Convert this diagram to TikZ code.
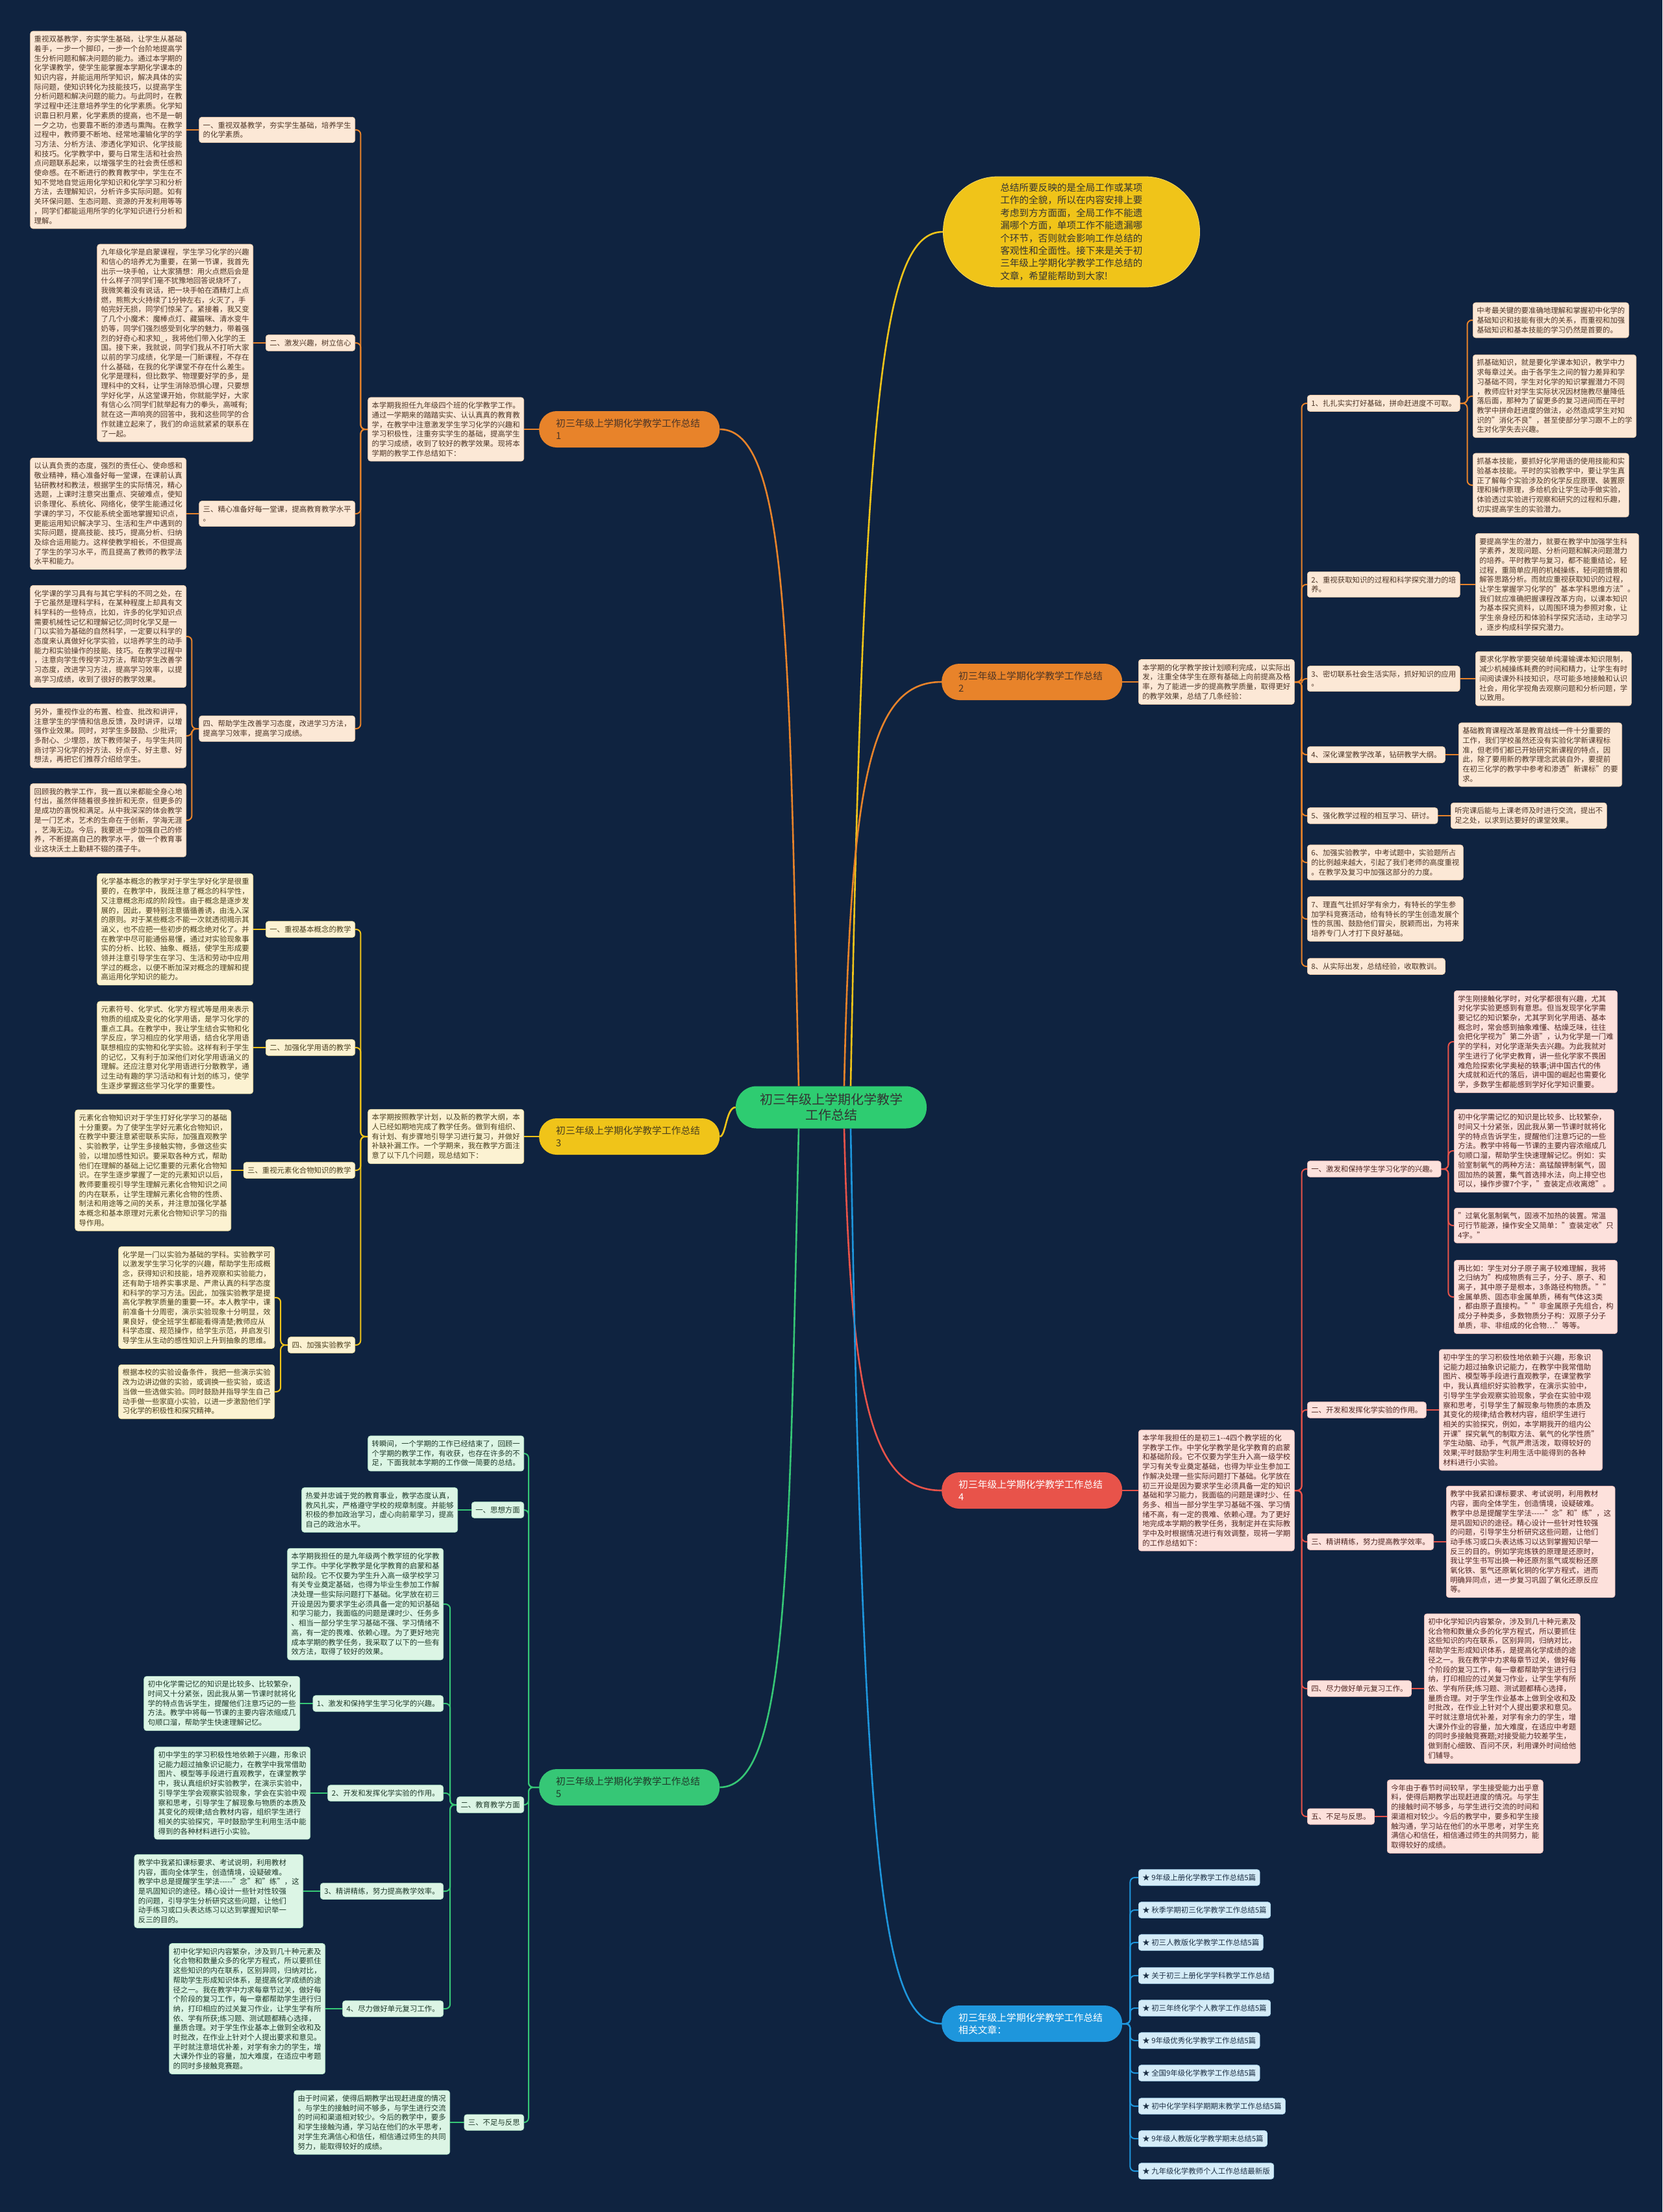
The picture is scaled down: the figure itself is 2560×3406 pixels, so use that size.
\documentclass[tikz,border=0pt]{standalone}
\usepackage{fontspec}
\setmainfont{Noto Sans CJK SC}
\definecolor{bgc}{HTML}{0F2340}
\definecolor{ocol}{HTML}{E8832A}
\definecolor{ofill}{HTML}{FCE8D6}
\definecolor{otext}{HTML}{4D3526}
\definecolor{ycol}{HTML}{F0C419}
\definecolor{yfill}{HTML}{FCF2D2}
\definecolor{ytext}{HTML}{4A3F1E}
\definecolor{rcol}{HTML}{E8534A}
\definecolor{rfill}{HTML}{FDE1DC}
\definecolor{rtext}{HTML}{4F2622}
\definecolor{gcol}{HTML}{36C776}
\definecolor{gfill}{HTML}{DCF5E5}
\definecolor{gtext}{HTML}{1F3A2A}
\definecolor{bcol}{HTML}{1E96DC}
\definecolor{bfill}{HTML}{D5ECF8}
\definecolor{btext}{HTML}{1C2F44}
\definecolor{ccol}{HTML}{2ECC71}
\newcommand\myfs{\fontsize{11.4pt}{14.7pt}\selectfont}
\newcommand\mypf{\fontsize{14.8pt}{19pt}\selectfont}
\newcommand\mycf{\fontsize{20pt}{24pt}\selectfont}
\newcommand\myif{\fontsize{14.6pt}{19.4pt}\selectfont}
\pgfdeclarelayer{back}
\pgfdeclarelayer{conn}
\pgfsetlayers{back,conn,main}
\tikzset{
  box/.style={font=\myfs, align=left, inner xsep=6pt, inner ysep=7pt, rounded corners=4pt, line width=0.6pt},
  obox/.style={box, fill=ofill, draw=ocol!25!ofill, text=otext},
  ybox/.style={box, fill=yfill, draw=ycol!30!yfill, text=ytext},
  rbox/.style={box, fill=rfill, draw=rcol!25!rfill, text=rtext},
  gbox/.style={box, fill=gfill, draw=gcol!25!gfill, text=gtext},
  bbox/.style={box, fill=bfill, draw=bcol!25!bfill, text=btext},
  pill/.style={font=\mypf, align=left, text width=226pt, inner xsep=26pt, inner ysep=9pt, rounded corners=27pt, minimum height=56pt},
  ocon/.style={draw=ocol, line width=2pt, rounded corners=7pt},
  ycon/.style={draw=ycol, line width=2pt, rounded corners=7pt},
  rcon/.style={draw=rcol, line width=2pt, rounded corners=7pt},
  gcon/.style={draw=gcol, line width=2pt, rounded corners=7pt},
  bcon/.style={draw=bcol, line width=2pt, rounded corners=7pt},
  mcon/.style={line width=2.6pt},
}
\begin{document}
\begin{tikzpicture}[x=1pt,y=-1pt]
\useasboundingbox (0,0) rectangle (2560,3406);
\begin{pgfonlayer}{back}
\fill[bgc] (0,0) rectangle (2560,3406);
\end{pgfonlayer}

% ---------- center ----------
\node[fill=ccol, text=black!80, font=\mycf, align=center, inner xsep=37pt, inner ysep=10pt, rounded corners=32pt, minimum height=65pt] (C) at (1280,1705) {初三年级上学期化学教学\\工作总结};

% ---------- intro ----------
\node[fill=ycol, draw=ycol!70!white, line width=0.8pt, text=black!80, font=\myif, align=left, inner xsep=88pt, inner ysep=10pt, rounded corners=84pt, minimum height=170pt] (I) at (1650,357) {总结所要反映的是全局工作或某项\\工作的全貌，所以在内容安排上要\\考虑到方方面面，全局工作不能遗\\漏哪个方面，单项工作不能遗漏哪\\个环节，否则就会影响工作总结的\\客观性和全面性。接下来是关于初\\三年级上学期化学教学工作总结的\\文章，希望能帮助到大家!};

% ---------- branch 1 ----------
\node[pill, fill=ocol, text=otext, anchor=west] (B1) at (830,661) {初三年级上学期化学教学工作总结\\1};
\node[obox, anchor=east] (D1) at (807,661) {本学期我担任九年级四个班的化学教学工作。\\通过一学期来的踏踏实实、认认真真的教育教\\学，在教学中注意激发学生学习化学的兴趣和\\学习积极性，注重夯实学生的基础，提高学生\\的学习成绩，收到了较好的教学效果。现将本\\学期的教学工作总结如下：};
\node[obox, anchor=east] (L1a) at (547,200) {一、重视双基教学，夯实学生基础，培养学生\\的化学素质。};
\node[obox, anchor=east] (P1a) at (287,200) {重视双基教学，夯实学生基础，让学生从基础\\着手，一步一个脚印，一步一个台阶地提高学\\生分析问题和解决问题的能力。通过本学期的\\化学课教学，使学生能掌握本学期化学课本的\\知识内容，并能运用所学知识，解决具体的实\\际问题，使知识转化为技能技巧，以提高学生\\分析问题和解决问题的能力。与此同时，在教\\学过程中还注意培养学生的化学素质。化学知\\识靠日积月累，化学素质的提高，也不是一朝\\一夕之功，也要靠不断的渗透与熏陶。在教学\\过程中，教师要不断地、经常地灌输化学的学\\习方法、分析方法、渗透化学知识、化学技能\\和技巧。化学教学中，要与日常生活和社会热\\点问题联系起来，以增强学生的社会责任感和\\使命感。在不断进行的教育教学中，学生在不\\知不觉地自觉运用化学知识和化学学习和分析\\方法，去理解知识，分析许多实际问题。如有\\关环保问题、生态问题、资源的开发利用等等\\，同学们都能运用所学的化学知识进行分析和\\理解。};
\node[obox, anchor=east] (L1b) at (547,528) {二、激发兴趣，树立信心};
\node[obox, anchor=east] (P1b) at (390,528) {九年级化学是启蒙课程，学生学习化学的兴趣\\和信心的培养尤为重要，在第一节课，我首先\\出示一块手帕，让大家猜想：用火点燃后会是\\什么样子?同学们毫不犹豫地回答说烧坏了，\\我微笑着没有说话，把一块手帕在酒精灯上点\\燃，熊熊大火持续了1分钟左右，火灭了，手\\帕完好无损，同学们惊呆了。紧接着，我又变\\了几个小魔术：魔棒点灯、藏猫咪、清水变牛\\奶等，同学们强烈感受到化学的魅力，带着强\\烈的好奇心和求知\_，我将他们带入化学的王\\国。接下来，我就说，同学们我从不打听大家\\以前的学习成绩，化学是一门新课程，不存在\\什么基础，在我的化学课堂不存在什么差生。\\化学是理科，但比数学、物理要好学的多，是\\理科中的文科，让学生消除恐惧心理，只要想\\学好化学，从这堂课开始，你就能学好，大家\\有信心么?同学们就举起有力的拳头，高喊有;\\就在这一声响亮的回答中，我和这些同学的合\\作就建立起来了，我们的命运就紧紧的联系在\\了一起。};
\node[obox, anchor=east] (L1c) at (547,791) {三、精心准备好每一堂课，提高教育教学水平\\。};
\node[obox, anchor=east] (P1c) at (287,791) {以认真负责的态度，强烈的责任心、使命感和\\敬业精神，精心准备好每一堂课，在课前认真\\钻研教材和教法，根据学生的实际情况，精心\\选题，上课时注意突出重点、突破难点，使知\\识条理化、系统化、网络化，使学生能通过化\\学课的学习，不仅能系统全面地掌握知识点，\\更能运用知识解决学习、生活和生产中遇到的\\实际问题，提高技能、技巧，提高分析、归纳\\及综合运用能力。这样使教学相长，不但提高\\了学生的学习水平，而且提高了教师的教学法\\水平和能力。};
\node[obox, anchor=east] (L1d) at (547,1122) {四、帮助学生改善学习态度，改进学习方法，\\提高学习效率，提高学习成绩。};
\node[obox, anchor=east] (P1d) at (287,980) {化学课的学习具有与其它学科的不同之处，在\\于它虽然是理科学科，在某种程度上却具有文\\科学科的一些特点，比如，许多的化学知识点\\需要机械性记忆和理解记忆;同时化学又是一\\门以实验为基础的自然科学，一定要以科学的\\态度来认真做好化学实验，以培养学生的动手\\能力和实验操作的技能、技巧。在教学过程中\\，注意向学生传授学习方法，帮助学生改善学\\习态度，改进学习方法，提高学习效率，以提\\高学习成绩，收到了很好的教学效果。};
\node[obox, anchor=east] (P1e) at (287,1133) {另外，重视作业的布置、检查、批改和讲评，\\注意学生的学情和信息反馈，及时讲评，以增\\强作业效果。同时，对学生多鼓励、少批评;\\多耐心、少埋怨，放下教师架子，与学生共同\\商讨学习化学的好方法、好点子、好主意、好\\想法，再把它们推荐介绍给学生。};
\node[obox, anchor=east] (P1f) at (287,1263) {回顾我的教学工作，我一直以来都能全身心地\\付出，虽然伴随着很多挫折和无奈，但更多的\\是成功的喜悦和满足。从中我深深的体会教学\\是一门艺术，艺术的生命在于创新，学海无涯\\，艺海无边。今后，我要进一步加强自己的修\\养，不断提高自己的教学水平，做一个教育事\\业这块沃土上勤耕不辍的孺子牛。};

% ---------- branch 3 ----------
\node[pill, fill=ycol, text=ytext, anchor=west] (B3) at (830,1750) {初三年级上学期化学教学工作总结\\3};
\node[ybox, anchor=east] (D3) at (807,1750) {本学期按照教学计划，以及新的教学大纲，本\\人已经如期地完成了教学任务。做到有组织、\\有计划、有步骤地引导学习进行复习，并做好\\补缺补漏工作。一个学期来，我在教学方面注\\意了以下几个问题，现总结如下：};
\node[ybox, anchor=east] (L3a) at (547,1431) {一、重视基本概念的教学};
\node[ybox, anchor=east] (P3a) at (390,1431) {化学基本概念的教学对于学生学好化学是很重\\要的，在教学中，我既注意了概念的科学性，\\又注意概念形成的阶段性。由于概念是逐步发\\展的，因此，要特别注意循循善诱，由浅入深\\的原则。对于某些概念不能一次就透彻揭示其\\涵义，也不应把一些初步的概念绝对化了。并\\在教学中尽可能通俗易懂，通过对实验现象事\\实的分析、比较、抽象、概括，使学生形成要\\领并注意引导学生在学习、生活和劳动中应用\\学过的概念，以便不断加深对概念的理解和提\\高运用化学知识的能力。};
\node[ybox, anchor=east] (L3b) at (547,1613) {二、加强化学用语的教学};
\node[ybox, anchor=east] (P3b) at (390,1613) {元素符号、化学式、化学方程式等是用来表示\\物质的组成及变化的化学用语，是学习化学的\\重点工具。在教学中，我让学生结合实物和化\\学反应，学习相应的化学用语，结合化学用语\\联想相应的实物和化学实验。这样有利于学生\\的记忆，又有利于加深他们对化学用语涵义的\\理解。还应注意对化学用语进行分散教学，通\\过生动有趣的学习活动和有计划的练习，使学\\生逐步掌握这些学习化学的重要性。};
\node[ybox, anchor=east] (L3c) at (547,1802) {三、重视元素化合物知识的教学};
\node[ybox, anchor=east] (P3c) at (356,1802) {元素化合物知识对于学生打好化学学习的基础\\十分重要。为了使学生学好元素化合物知识，\\在教学中要注意紧密联系实际，加强直观教学\\、实验教学，让学生多接触实物，多做这些实\\验，以增加感性知识。要采取各种方式，帮助\\他们在理解的基础上记忆重要的元素化合物知\\识。在学生逐步掌握了一定的元素知识以后，\\教师要重视引导学生理解元素化合物知识之间\\的内在联系，让学生理解元素化合物的性质、\\制法和用途等之间的关系，并注意加强化学基\\本概念和基本原理对元素化合物知识学习的指\\导作用。};
\node[ybox, anchor=east] (L3d) at (547,2071) {四、加强实验教学};
\node[ybox, anchor=east] (P3d) at (423,1998) {化学是一门以实验为基础的学科。实验教学可\\以激发学生学习化学的兴趣，帮助学生形成概\\念，获得知识和技能，培养观察和实验能力，\\还有助于培养实事求是、严肃认真的科学态度\\和科学的学习方法。因此，加强实验教学是提\\高化学教学质量的重要一环。本人教学中，课\\前准备十分周密，演示实验现象十分明显，效\\果良好，使全班学生都能看得清楚;教师应从\\科学态度、规范操作，给学生示范，并启发引\\导学生从生动的感性知识上升到抽象的思维。};
\node[ybox, anchor=east] (P3e) at (423,2143) {根据本校的实验设备条件，我把一些演示实验\\改为边讲边做的实验，或调换一些实验，或适\\当做一些选做实验。同时鼓励并指导学生自己\\动手做一些家庭小实验，以进一步激励他们学\\习化学的积极性和探究精神。};

% ---------- branch 5 ----------
\node[pill, fill=gcol, text=gtext, anchor=west] (B5) at (830,2752) {初三年级上学期化学教学工作总结\\5};
\node[gbox, anchor=east] (D5) at (807,2238) {转瞬间，一个学期的工作已经结束了，回顾一\\个学期的教学工作，有收获，也存在许多的不\\足，下面我就本学期的工作做一简要的总结。};
\node[gbox, anchor=east] (L5a) at (807,2325) {一、思想方面};
\node[gbox, anchor=east] (P5a) at (705,2325) {热爱并忠诚于党的教育事业，教学态度认真，\\教风扎实，严格遵守学校的规章制度。并能够\\积极的参加政治学习，虚心向前辈学习，提高\\自己的政治水平。};
\node[gbox, anchor=east] (L5b) at (807,2779) {二、教育教学方面};
\node[gbox, anchor=east] (P5b) at (683,2470) {本学期我担任的是九年级两个教学班的化学教\\学工作。中学化学教学是化学教育的启蒙和基\\础阶段。它不仅要为学生升入高一级学校学习\\有关专业奠定基础，也得为毕业生参加工作解\\决处理一些实际问题打下基础。化学放在初三\\开设是因为要求学生必须具备一定的知识基础\\和学习能力，我面临的问题是课时少、任务多\\、相当一部分学生学习基础不强、学习情绪不\\高，有一定的畏难、依赖心理。为了更好地完\\成本学期的教学任务，我采取了以下的一些有\\效方法，取得了较好的效果。};
\node[gbox, anchor=east] (L5b1) at (683,2623) {1、激发和保持学生学习化学的兴趣。};
\node[gbox, anchor=east] (P5c) at (462,2623) {初中化学需记忆的知识是比较多、比较繁杂，\\时间又十分紧张，因此我从第一节课时就将化\\学的特点告诉学生，提醒他们注意巧记的一些\\方法。教学中将每一节课的主要内容浓缩成几\\句顺口溜，帮助学生快速理解记忆。};
\node[gbox, anchor=east] (L5b2) at (683,2761) {2、开发和发挥化学实验的作用。};
\node[gbox, anchor=east] (P5d) at (478,2761) {初中学生的学习积极性地依赖于兴趣，形象识\\记能力超过抽象识记能力，在教学中我常借助\\图片、模型等手段进行直观教学，在课堂教学\\中，我认真组织好实验教学，在演示实验中，\\引导学生学会观察实验现象，学会在实验中观\\察和思考，引导学生了解现象与物质的本质及\\其变化的规律;结合教材内容，组织学生进行\\相关的实验探究，平时鼓励学生利用生活中能\\得到的各种材料进行小实验。};
\node[gbox, anchor=east] (L5b3) at (683,2912) {3、精讲精练，努力提高教学效率。};
\node[gbox, anchor=east] (P5e) at (467,2912) {教学中我紧扣课标要求、考试说明，利用教材\\内容，面向全体学生，创造情境，设疑破难。\\教学中总是提醒学生学法-{}-{}-{}-{}-"念"和"练"，这\\是巩固知识的途径。精心设计一些针对性较强\\的问题，引导学生分析研究这些问题，让他们\\动手练习或口头表达练习以达到掌握知识举一\\反三的目的。};
\node[gbox, anchor=east] (L5b4) at (683,3093) {4、尽力做好单元复习工作。};
\node[gbox, anchor=east] (P5f) at (501,3093) {初中化学知识内容繁杂，涉及到几十种元素及\\化合物和数量众多的化学方程式，所以要抓住\\这些知识的内在联系，区别异同，归纳对比，\\帮助学生形成知识体系，是提高化学成绩的途\\径之一。我在教学中力求每章节过关，做好每\\个阶段的复习工作，每一章都帮助学生进行归\\纳，打印相应的过关复习作业，让学生学有所\\依、学有所获;练习题、测试题都精心选择，\\量质合理。对于学生作业基本上做到全收和及\\时批改，在作业上针对个人提出要求和意见。\\平时就注意培优补差，对学有余力的学生，增\\大课外作业的容量，加大难度，在适应中考题\\的同时多接触竞赛题。};
\node[gbox, anchor=east] (L5c) at (807,3268) {三、不足与反思};
\node[gbox, anchor=east] (P5g) at (693,3268) {由于时间紧，使得后期教学出现赶进度的情况\\。与学生的接触时间不够多，与学生进行交流\\的时间和渠道相对较少。今后的教学中，要多\\和学生接触沟通，学习站在他们的水平思考，\\对学生充满信心和信任，相信通过师生的共同\\努力，能取得较好的成绩。};

% ---------- branch 2 ----------
\node[pill, fill=ocol, text=otext, anchor=west] (B2) at (1450,1050) {初三年级上学期化学教学工作总结\\2};
\node[obox, anchor=west] (D2) at (1753,1050) {本学期的化学教学按计划顺利完成，以实际出\\发，注重全体学生在原有基础上向前提高及格\\率，为了能进一步的提高教学质量，取得更好\\的教学效果，总结了几条经验：};
\node[obox, anchor=west] (L21) at (2013,621) {1、扎扎实实打好基础，拼命赶进度不可取。};
\node[obox, anchor=west] (P21a) at (2268,493) {中考最关键的要准确地理解和掌握初中化学的\\基础知识和技能有很大的关系，而重视和加强\\基础知识和基本技能的学习仍然是首要的。};
\node[obox, anchor=west] (P21b) at (2268,610) {抓基础知识，就是要化学课本知识，教学中力\\求每章过关。由于各学生之间的智力差异和学\\习基础不同，学生对化学的知识掌握潜力不同\\，教师应针对学生实际状况因材施教尽量降低\\落后面，那种为了留更多的复习进间而在平时\\教学中拼命赶进度的做法，必然造成学生对知\\识的"消化不良"，甚至使部分学习跟不上的学\\生对化学失去兴趣。};
\node[obox, anchor=west] (P21c) at (2268,747) {抓基本技能，要抓好化学用语的使用技能和实\\验基本技能。平时的实验教学中，要让学生真\\正了解每个实验涉及的化学反应原理、装置原\\理和操作原理，多给机会让学生动手做实验，\\体验透过实验进行观察和研究的过程和乐趣，\\切实提高学生的实验潜力。};
\node[obox, anchor=west] (L22) at (2013,900) {2、重视获取知识的过程和科学探究潜力的培\\养。};
\node[obox, anchor=west] (P22) at (2272,900) {要提高学生的潜力，就要在教学中加强学生科\\学素养，发现问题、分析问题和解决问题潜力\\的培养。平时教学与复习，都不能重结论，轻\\过程，重简单应用的机械操练，轻问题情景和\\解答思路分析。而就应重视获取知识的过程，\\让学生掌握学习化学的"基本学科思维方法"。\\我们就应准确把握课程改革方向，以课本知识\\为基本探究资料，以周围环境为参照对象，让\\学生亲身经历和体验科学探究活动，主动学习\\，逐步构成科学探究潜力。};
\node[obox, anchor=west] (L23) at (2013,1045) {3、密切联系社会生活实际，抓好知识的应用\\。};
\node[obox, anchor=west] (P23) at (2272,1045) {要求化学教学要突破单纯灌输课本知识限制，\\减少机械操练耗费的时间和精力，让学生有时\\间阅读课外科技知识，尽可能多地接触和认识\\社会，用化学视角去观察问题和分析问题，学\\以致用。};
\node[obox, anchor=west] (L24) at (2013,1162) {4、深化课堂教学改革，钻研教学大纲。};
\node[obox, anchor=west] (P24) at (2246,1162) {基础教育课程改革是教育战线一件十分重要的\\工作，我们学校虽然还没有实验化学新课程标\\准，但老师们都已开始研究新课程的特点，因\\此，除了要用新的教学理念武装自外，要提前\\在初三化学的教学中参考和渗透"新课标"的要\\求。};
\node[obox, anchor=west] (L25) at (2013,1256) {5、强化教学过程的相互学习、研讨。};
\node[obox, anchor=west] (P25) at (2234,1256) {听完课后能与上课老师及时进行交流，提出不\\足之处，以求到达要好的课堂效果。};
\node[obox, anchor=west] (L26) at (2013,1328) {6、加强实验教学，中考试题中，实验题所占\\的比例越来越大，引起了我们老师的高度重视\\。在教学及复习中加强这部分的力度。};
\node[obox, anchor=west] (L27) at (2013,1415) {7、理直气壮抓好学有余力，有特长的学生参\\加学科竞赛活动，给有特长的学生创造发展个\\性的氛围、鼓励他们冒尖，脱颖而出，为将来\\培养专门人才打下良好基础。};
\node[obox, anchor=west] (L28) at (2013,1488) {8、从实际出发，总结经验，收取教训。};

% ---------- branch 4 ----------
\node[pill, fill=rcol, text=white, anchor=west] (B4) at (1450,2295) {初三年级上学期化学教学工作总结\\4};
\node[rbox, anchor=west] (D4) at (1753,2295) {本学年我担任的是初三1-{}-4四个教学班的化\\学教学工作。中学化学教学是化学教育的启蒙\\和基础阶段。它不仅要为学生升入高一级学校\\学习有关专业奠定基础，也得为毕业生参加工\\作解决处理一些实际问题打下基础。化学放在\\初三开设是因为要求学生必须具备一定的知识\\基础和学习能力，我面临的问题是课时少、任\\务多、相当一部分学生学习基础不强、学习情\\绪不高，有一定的畏难、依赖心理。为了更好\\地完成本学期的教学任务，我制定并在实际教\\学中及时根据情况进行有效调整，现将一学期\\的工作总结如下：};
\node[rbox, anchor=west] (L41) at (2013,1800) {一、激发和保持学生学习化学的兴趣。};
\node[rbox, anchor=west] (P41a) at (2239,1604) {学生刚接触化学时，对化学都很有兴趣，尤其\\对化学实验更感到有意思。但当发现学化学需\\要记忆的知识繁杂，尤其学到化学用语、基本\\概念时，常会感到抽象难懂、枯燥乏味，往往\\会把化学视为"第二外语"，认为化学是一门难\\学的学科，对化学逐渐失去兴趣。为此我就对\\学生进行了化学史教育，讲一些化学家不畏困\\难危险探索化学奥秘的轶事;讲中国古代的伟\\大成就和近代的落后，讲中国的崛起也需要化\\学，多数学生都能感到学好化学知识重要。};
\node[rbox, anchor=west] (P41b) at (2239,1772) {初中化学需记忆的知识是比较多、比较繁杂，\\时间又十分紧张，因此我从第一节课时就将化\\学的特点告诉学生，提醒他们注意巧记的一些\\方法。教学中将每一节课的主要内容浓缩成几\\句顺口溜，帮助学生快速理解记忆。例如：实\\验室制氧气的两种方法：高锰酸钾制氧气，固\\固加热的装置，集气首选排水法，向上排空也\\可以，操作步骤7个字，"查装定点收离熄"。};
\node[rbox, anchor=west] (P41c) at (2239,1887) {"过氧化氢制氧气，固液不加热的装置。常温\\可行节能源，操作安全又简单："查装定收"只\\4字。"};
\node[rbox, anchor=west] (P41d) at (2239,1997) {再比如：学生对分子原子离子较难理解，我将\\之归纳为"构成物质有三子，分子、原子、和\\离子，其中原子是根本，3条路径构物质。""\\金属单质、固态非金属单质，稀有气体这3类\\，都由原子直接构。""非金属原子先组合，构\\成分子种类多，多数物质分子构：双原子分子\\单质，非、非组成的化合物…"等等。};
\node[rbox, anchor=west] (L42) at (2013,2171) {二、开发和发挥化学实验的作用。};
\node[rbox, anchor=west] (P42) at (2216,2171) {初中学生的学习积极性地依赖于兴趣，形象识\\记能力超过抽象识记能力，在教学中我常借助\\图片、模型等手段进行直观教学，在课堂教学\\中，我认真组织好实验教学，在演示实验中，\\引导学生学会观察实验现象，学会在实验中观\\察和思考，引导学生了解现象与物质的本质及\\其变化的规律;结合教材内容，组织学生进行\\相关的实验探究，例如，本学期我开的组内公\\开课"探究氧气的制取方法、氧气的化学性质"\\学生动脑、动手，气氛严肃活泼，取得较好的\\效果;平时鼓励学生利用生活中能得到的各种\\材料进行小实验。};
\node[rbox, anchor=west] (L43) at (2013,2374) {三、精讲精练，努力提高教学效率。};
\node[rbox, anchor=west] (P43) at (2227,2374) {教学中我紧扣课标要求、考试说明，利用教材\\内容，面向全体学生，创造情境，设疑破难。\\教学中总是提醒学生学法-{}-{}-{}-{}-"念"和"练"，这\\是巩固知识的途径。精心设计一些针对性较强\\的问题，引导学生分析研究这些问题，让他们\\动手练习或口头表达练习以达到掌握知识举一\\反三的目的。例如学完炼铁的原理是还原时，\\我让学生书写出换一种还原剂氢气或炭粉还原\\氧化铁、氢气还原氧化铜的化学方程式，进而\\明确异同点，进一步复习巩固了氧化还原反应\\等。};
\node[rbox, anchor=west] (L44) at (2013,2600) {四、尽力做好单元复习工作。};
\node[rbox, anchor=west] (P44) at (2193,2600) {初中化学知识内容繁杂，涉及到几十种元素及\\化合物和数量众多的化学方程式，所以要抓住\\这些知识的内在联系，区别异同，归纳对比，\\帮助学生形成知识体系，是提高化学成绩的途\\径之一。我在教学中力求每章节过关，做好每\\个阶段的复习工作，每一章都帮助学生进行归\\纳，打印相应的过关复习作业，让学生学有所\\依、学有所获;练习题、测试题都精心选择，\\量质合理。对于学生作业基本上做到全收和及\\时批改，在作业上针对个人提出要求和意见。\\平时就注意培优补差，对学有余力的学生，增\\大课外作业的容量，加大难度，在适应中考题\\的同时多接触竞赛题;对接受能力较差学生，\\做到耐心细致、百问不厌，利用课外时间给他\\们辅导。};
\node[rbox, anchor=west] (L45) at (2013,2797) {五、不足与反思。};
\node[rbox, anchor=west] (P45) at (2136,2797) {今年由于春节时间较早，学生接受能力出乎意\\料，使得后期教学出现赶进度的情况。与学生\\的接触时间不够多，与学生进行交流的时间和\\渠道相对较少。今后的教学中，要多和学生接\\触沟通，学习站在他们的水平思考，对学生充\\满信心和信任，相信通过师生的共同努力，能\\取得较好的成绩。};

% ---------- branch 6 ----------
\node[pill, fill=bcol, text=white, anchor=west] (B6) at (1450,3116) {初三年级上学期化学教学工作总结\\相关文章：};
\node[bbox, anchor=west] (I0) at (1753,2891) {★ 9年级上册化学教学工作总结5篇};
\node[bbox, anchor=west] (I1) at (1753,2941) {★ 秋季学期初三化学教学工作总结5篇};
\node[bbox, anchor=west] (I2) at (1753,2991) {★ 初三人教版化学教学工作总结5篇};
\node[bbox, anchor=west] (I3) at (1753,3042) {★ 关于初三上册化学学科教学工作总结};
\node[bbox, anchor=west] (I4) at (1753,3092) {★ 初三年终化学个人教学工作总结5篇};
\node[bbox, anchor=west] (I5) at (1753,3142) {★ 9年级优秀化学教学工作总结5篇};
\node[bbox, anchor=west] (I6) at (1753,3192) {★ 全国9年级化学教学工作总结5篇};
\node[bbox, anchor=west] (I7) at (1753,3243) {★ 初中化学学科学期期末教学工作总结5篇};
\node[bbox, anchor=west] (I8) at (1753,3293) {★ 9年级人教版化学教学期末总结5篇};
\node[bbox, anchor=west] (I9) at (1753,3343) {★ 九年级化学教师个人工作总结最新版};

% ---------- connectors ----------
\begin{pgfonlayer}{conn}
% main
\draw[ocon, mcon] ([xshift=-50pt]C.north) .. controls (1215,1000) and (1215,661) .. (B1.east);
\draw[ycon, mcon] (C.west) .. controls (1118,1705) and (1118,1750) .. (B3.east);
\draw[gcon, mcon] ([xshift=-50pt]C.south) .. controls (1215,2400) and (1215,2752) .. (B5.east);
\draw[ycon, mcon] ([xshift=30pt]C.north) .. controls (1330,600) and (1360,357) .. (I.west);
\draw[ocon, mcon] ([xshift=20pt]C.north) .. controls (1310,1200) and (1340,1050) .. (B2.west);
\draw[rcon, mcon] ([xshift=20pt]C.south) .. controls (1310,2150) and (1340,2295) .. (B4.west);
\draw[bcon, mcon] ([xshift=30pt]C.south) .. controls (1330,2900) and (1360,3116) .. (B6.west);
% branch 1
\draw[ocon] (B1.west) -- (D1.east);
\foreach \t in {L1a,L1b,L1c,L1d} \draw[ocon] (D1.west) -- ++(-11,0) |- (\t.east);
\draw[ocon] (L1a.west) -- (P1a.east);
\draw[ocon] (L1b.west) -- (P1b.east);
\draw[ocon] (L1c.west) -- (P1c.east);
\foreach \t in {P1d,P1e,P1f} \draw[ocon] (L1d.west) -- ++(-11,0) |- (\t.east);
% branch 3
\draw[ycon] (B3.west) -- (D3.east);
\foreach \t in {L3a,L3b,L3c,L3d} \draw[ycon] (D3.west) -- ++(-11,0) |- (\t.east);
\draw[ycon] (L3a.west) -- (P3a.east);
\draw[ycon] (L3b.west) -- (P3b.east);
\draw[ycon] (L3c.west) -- (P3c.east);
\foreach \t in {P3d,P3e} \draw[ycon] (L3d.west) -- ++(-11,0) |- (\t.east);
% branch 5
\foreach \t in {D5,L5a,L5b,L5c} \draw[gcon] (B5.west) -- ++(-16,0) |- (\t.east);
\draw[gcon] (L5a.west) -- (P5a.east);
\foreach \t in {P5b,L5b1,L5b2,L5b3,L5b4} \draw[gcon] (L5b.west) -- ++(-10,0) |- (\t.east);
\draw[gcon] (L5b1.west) -- (P5c.east);
\draw[gcon] (L5b2.west) -- (P5d.east);
\draw[gcon] (L5b3.west) -- (P5e.east);
\draw[gcon] (L5b4.west) -- (P5f.east);
\draw[gcon] (L5c.west) -- (P5g.east);
% branch 2
\draw[ocon] (B2.east) -- (D2.west);
\foreach \t in {L21,L22,L23,L24,L25,L26,L27,L28} \draw[ocon] (D2.east) -- ++(11,0) |- (\t.west);
\foreach \t in {P21a,P21b,P21c} \draw[ocon] (L21.east) -- ++(11,0) |- (\t.west);
\draw[ocon] (L22.east) -- (P22.west);
\draw[ocon] (L23.east) -- (P23.west);
\draw[ocon] (L24.east) -- (P24.west);
\draw[ocon] (L25.east) -- (P25.west);
% branch 4
\draw[rcon] (B4.east) -- (D4.west);
\foreach \t in {L41,L42,L43,L44,L45} \draw[rcon] (D4.east) -- ++(11,0) |- (\t.west);
\foreach \t in {P41a,P41b,P41c,P41d} \draw[rcon] (L41.east) -- ++(11,0) |- (\t.west);
\draw[rcon] (L42.east) -- (P42.west);
\draw[rcon] (L43.east) -- (P43.west);
\draw[rcon] (L44.east) -- (P44.west);
\draw[rcon] (L45.east) -- (P45.west);
% branch 6
\foreach \t in {I0,I1,I2,I3,I4,I5,I6,I7,I8,I9} \draw[bcon] (B6.east) -- ++(12,0) |- (\t.west);
\end{pgfonlayer}
\end{tikzpicture}
\end{document}
